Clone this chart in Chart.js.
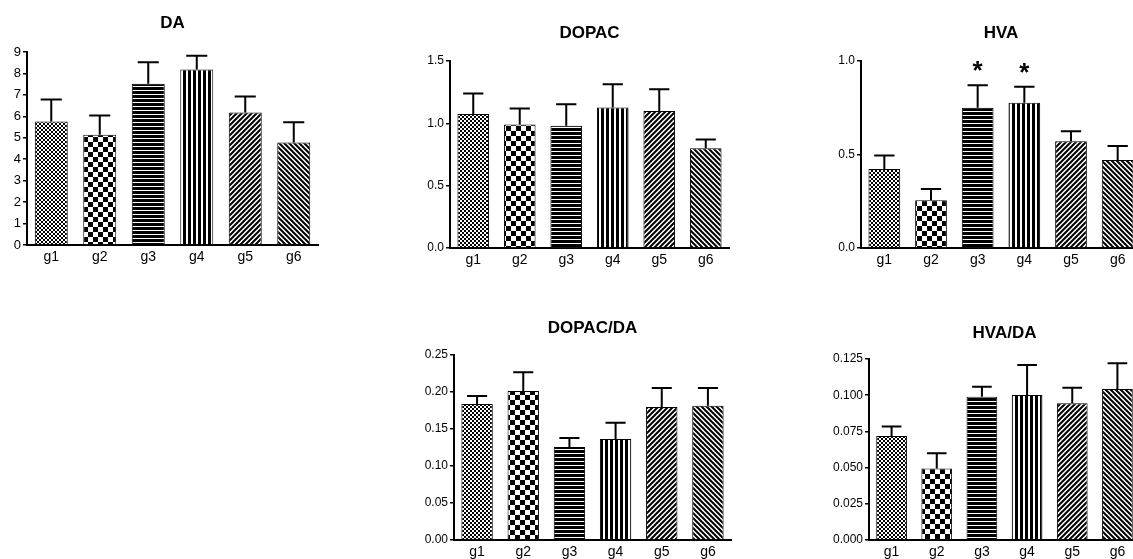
<!DOCTYPE html>
<html>
<head>
<meta charset="utf-8">
<script src="https://cdn.jsdelivr.net/npm/chart.js"></script>
<style>
  html, body { margin: 0; padding: 0; background: #fff; }
  body { width: 1133px; height: 559px; overflow: hidden; position: relative; }
  canvas { position: absolute; }
</style>
</head>
<body>
<canvas id="da"></canvas>
<canvas id="dopac"></canvas>
<canvas id="hva"></canvas>
<canvas id="dopacDa"></canvas>
<canvas id="hvaDa"></canvas>
<script>
// groups and values (mean, and SEM as upper error)
const groups = ["g1", "g2", "g3", "g4", "g5", "g6"];

const daMean = [5.76, 5.14, 7.52, 8.18, 6.18, 4.78];
const daSem  = [1.02, 0.90, 1.00, 0.65, 0.75, 0.94];

const dopacMean = [1.074, 0.991, 0.980, 1.127, 1.098, 0.800];
const dopacSem  = [0.165, 0.128, 0.174, 0.187, 0.176, 0.071];

const hvaMean = [0.423, 0.255, 0.750, 0.777, 0.571, 0.470];
const hvaSem  = [0.072, 0.061, 0.120, 0.085, 0.054, 0.075];
const hvaMarks = ["", "", "*", "*", "", ""];

const dopacDaMean = [0.1838, 0.2014, 0.1257, 0.1365, 0.1797, 0.1815];
const dopacDaSem  = [0.0108, 0.0252, 0.0121, 0.0221, 0.0257, 0.0239];

const hvaDaMean = [0.0718, 0.0493, 0.0990, 0.1001, 0.0944, 0.1043];
const hvaDaSem  = [0.0065, 0.0106, 0.0069, 0.0208, 0.0108, 0.0177];

const FONT = "'Liberation Sans', Arial, sans-serif";
const LEFT = 44, TOP = 45, BOTTOM = 28, RIGHT = 4;

// black & white hatch fills, one per group
function makePattern(kind) {
  const c = document.createElement("canvas");
  const g = c.getContext("2d");
  let s = 5;
  if (kind === "fine") s = 4;
  if (kind === "check") s = 10;
  if (kind === "hstripe") s = 4;
  if (kind === "vstripe") s = 5;
  c.width = s; c.height = s;
  g.fillStyle = "#fff";
  g.fillRect(0, 0, s, s);
  g.fillStyle = "#000";
  g.strokeStyle = "#000";
  if (kind === "fine") {
    g.fillRect(0, 0, 2, 2);
    g.fillRect(2, 2, 2, 2);
  } else if (kind === "check") {
    g.fillRect(0, 0, 5, 5);
    g.fillRect(5, 5, 5, 5);
  } else if (kind === "hstripe") {
    g.fillRect(0, 0, s, 3);
  } else if (kind === "vstripe") {
    g.fillRect(0, 0, 3, s);
  } else {
    g.lineWidth = 2;
    g.beginPath();
    if (kind === "up") {
      g.moveTo(0, s); g.lineTo(s, 0);
      g.moveTo(-1, 1); g.lineTo(1, -1);
      g.moveTo(s - 1, s + 1); g.lineTo(s + 1, s - 1);
    } else {
      g.moveTo(0, 0); g.lineTo(s, s);
      g.moveTo(-1, s - 1); g.lineTo(1, s + 1);
      g.moveTo(s - 1, -1); g.lineTo(s + 1, 1);
    }
    g.stroke();
  }
  return g.createPattern(c, "repeat");
}

const fills = ["fine", "check", "hstripe", "vstripe", "up", "down"].map(makePattern);

const errorBars = {
  id: "errorBars",
  afterDatasetsDraw(chart, args, opts) {
    const ctx = chart.ctx;
    const y = chart.scales.y;
    const vals = chart.data.datasets[0].data;
    const meta = chart.getDatasetMeta(0);
    ctx.save();
    ctx.strokeStyle = "#000";
    ctx.fillStyle = "#000";
    ctx.lineWidth = 2;
    meta.data.forEach((bar, i) => {
      const top = y.getPixelForValue(vals[i] + opts.sem[i]);
      const cap = bar.width * 0.32;
      ctx.beginPath();
      ctx.moveTo(bar.x, bar.y);
      ctx.lineTo(bar.x, top);
      ctx.moveTo(bar.x - cap, top);
      ctx.lineTo(bar.x + cap, top);
      ctx.stroke();
      if (opts.marks && opts.marks[i]) {
        ctx.font = "bold 26px " + FONT;
        ctx.textAlign = "center";
        ctx.textBaseline = "alphabetic";
        ctx.fillText(opts.marks[i], bar.x, top - 6);
      }
    });
    ctx.restore();
  }
};

const panelTitle = {
  id: "panelTitle",
  afterDraw(chart, args, opts) {
    const a = chart.chartArea;
    const ctx = chart.ctx;
    ctx.save();
    ctx.font = "bold 17px " + FONT;
    ctx.fillStyle = "#000";
    ctx.textAlign = "center";
    ctx.textBaseline = "middle";
    ctx.fillText(opts.text, (a.left + a.right) / 2, a.top - opts.gap);
    ctx.restore();
  }
};

function panel(id, geo, title, mean, sem, yMax, step, digits, yFont, marks) {
  const el = document.getElementById(id);
  const w = LEFT + (geo.right - geo.x) + RIGHT;
  const h = TOP + (geo.zero - geo.top) + BOTTOM;
  el.width = w; el.height = h;
  el.style.width = w + "px"; el.style.height = h + "px";
  el.style.left = (geo.x - LEFT) + "px";
  el.style.top = (geo.top - TOP) + "px";

  new Chart(el, {
    type: "bar",
    data: {
      labels: groups,
      datasets: [{
        data: mean,
        backgroundColor: fills,
        borderColor: "#000",
        borderWidth: 1,
        categoryPercentage: 1,
        barPercentage: 0.68
      }]
    },
    options: {
      responsive: false,
      animation: false,
      devicePixelRatio: 1,
      layout: { padding: { top: TOP, right: RIGHT, left: 0, bottom: 0 } },
      scales: {
        x: {
          offset: true,
          grid: { display: false, drawTicks: false },
          border: { color: "#000", width: 2 },
          ticks: { color: "#000", font: { family: FONT, size: 14 }, padding: 4 },
          afterFit: s => { s.height = BOTTOM; }
        },
        y: {
          min: 0,
          max: yMax,
          ticks: {
            stepSize: step,
            color: "#000",
            font: { family: FONT, size: yFont },
            padding: 2,
            callback: v => Number(v).toFixed(digits)
          },
          grid: { drawOnChartArea: false, drawTicks: true, tickLength: 4, color: "#000", lineWidth: 1.5 },
          border: { color: "#000", width: 2 },
          afterFit: s => { s.width = LEFT; }
        }
      },
      plugins: {
        legend: { display: false },
        tooltip: { enabled: false },
        errorBars: { sem: sem, marks: marks },
        panelTitle: { text: title, gap: geo.top - geo.title }
      }
    },
    plugins: [errorBars, panelTitle]
  });
}

panel("da",      { x: 27,  right: 318,  top: 52,  zero: 245, title: 23 },  "DA",       daMean,      daSem,      9,     1,     0, 13, null);
panel("dopac",   { x: 450, right: 729,  top: 61,  zero: 248, title: 33 },  "DOPAC",    dopacMean,   dopacSem,   1.5,   0.5,   1, 12, null);
panel("hva",     { x: 861, right: 1141, top: 61,  zero: 248, title: 33 },  "HVA",      hvaMean,     hvaSem,     1.0,   0.5,   1, 12, hvaMarks);
panel("dopacDa", { x: 454, right: 731,  top: 355, zero: 540, title: 328 }, "DOPAC/DA", dopacDaMean, dopacDaSem, 0.25,  0.05,  2, 12, null);
panel("hvaDa",   { x: 869, right: 1140, top: 359, zero: 540, title: 333 }, "HVA/DA",   hvaDaMean,   hvaDaSem,   0.125, 0.025, 3, 12, null);
</script>
</body>
</html>
